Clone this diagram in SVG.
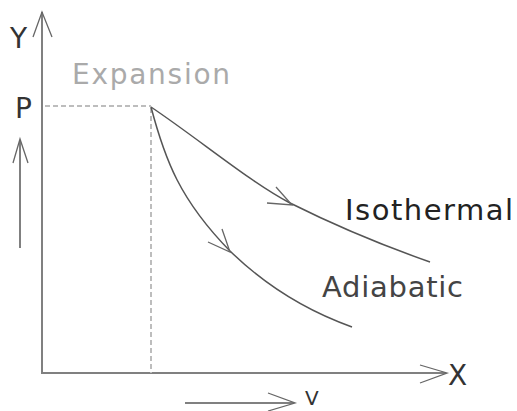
<svg xmlns="http://www.w3.org/2000/svg" width="517" height="411" viewBox="0 0 517 411">
<style>
.ax{stroke:#808080;stroke-width:2;fill:none}
.cv{stroke:#555;stroke-width:1.5;fill:none}
.ds{stroke:#bdbdbd;stroke-width:2;stroke-dasharray:5,3;fill:none}
.ah{stroke:#666;stroke-width:1.3;fill:none}
text{font-family:"DejaVu Sans","Liberation Sans",sans-serif}
</style>
<rect width="517" height="411" fill="#fff"/>
<g id="axes">
<path class="ax" d="M42,12 V373 H446"/>
<path class="ah" d="M33,37 L42,12 L52,37"/>
<path class="ah" d="M420,365 L447,373 L420,383"/>
</g>
<g id="guides">
<path class="ds" d="M45,106 H151 M151,108 V373"/>
</g>
<g id="connectors">
<path class="cv" d="M151,107 C200,140 250,182 290,203 C340,228 390,248 430,262"/>
<path class="ah" d="M267,203 L292,205 L276,187"/>
<path class="cv" d="M151,107 C165,160 180,200 230,251 C270,290 310,312 352,327"/>
<path class="ah" d="M208,242 L230,252 L222,229"/>
<path class="ax" d="M20,140 V248"/>
<path class="ah" d="M13,163 L20,139 L28,163"/>
<path class="ax" d="M185,403 H293"/>
<path class="ah" d="M268,393 L295,403 L268,411"/>
</g>
<g id="labels">
<text x="10" y="48" font-size="28" fill="#333" textLength="18">Y</text>
<text x="15" y="118" font-size="28" fill="#333" textLength="17">P</text>
<text x="72" y="84" font-size="28" fill="#aaa" textLength="158">Expansion</text>
<text x="345" y="220" font-size="29" fill="#222" textLength="168">Isothermal</text>
<text x="322" y="297" font-size="29" fill="#444" textLength="141">Adiabatic</text>
<text x="448" y="385" font-size="28" fill="#333" textLength="20">X</text>
<text x="305" y="405" font-size="20" fill="#333" textLength="20">V</text>
</g>
</svg>
